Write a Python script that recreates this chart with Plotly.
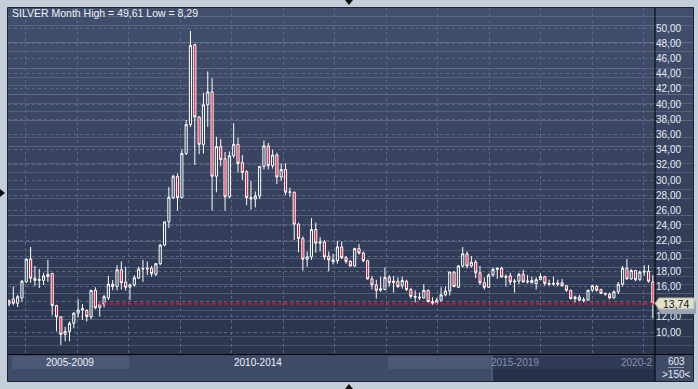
import plotly.graph_objects as go
import pandas as pd

# ---- data (monthly SILVER candles, Oct 2007 .. Mar 2020) ----
months = [d.strftime("%Y-%m") for d in pd.date_range("2007-10-01", periods=150, freq="MS")]
opens = [13.7, 14.35, 13.8, 14.5, 16.6, 19.6, 17.1, 16.8, 16.8, 17.3,
         17.7, 13.5, 12.0, 9.7, 10.1, 11.15, 12.5, 12.9, 12.85, 12.0,
         15.5, 13.25, 13.7, 14.5, 16.3, 16.0, 18.2, 16.6, 15.9, 16.2,
         17.1, 18.3, 18.3, 18.4, 17.6, 19.0, 21.45, 24.5, 27.7, 30.5,
         27.7, 33.5, 37.3, 47.8, 38.3, 34.7, 39.9, 41.6, 30.5, 34.4,
         32.8, 27.8, 33.2, 34.7, 32.3, 31.1, 27.7, 27.5, 27.9, 31.8,
         34.5, 31.9, 33.3, 30.4, 31.4, 28.4, 28.4, 24.2, 22.3, 19.6,
         19.9, 23.5, 21.7, 21.85, 20.0, 19.3, 19.4, 21.2, 19.8, 19.3,
         18.7, 21.0, 20.4, 19.4, 17.0, 16.2, 15.5, 15.6, 17.2, 16.5,
         16.7, 16.1, 16.7, 15.6, 14.7, 14.6, 14.5, 15.5, 14.0, 13.8,
         14.2, 14.9, 15.4, 17.9, 15.9, 18.7, 20.3, 18.7, 19.2, 17.8,
         16.5, 15.9, 17.5, 18.25, 18.4, 17.2, 17.4, 16.6, 16.7, 17.6,
         16.6, 16.8, 16.4, 16.9, 17.3, 16.4, 16.3, 16.45, 16.5, 16.1,
         15.5, 14.4, 14.6, 14.2, 14.2, 15.5, 16.0, 15.6, 15.1, 15.0,
         14.5, 15.3, 16.3, 18.4, 17.0, 18.1, 16.9, 17.9, 18.0, 16.6]
highs = [14.3, 16.0, 14.9, 16.85, 19.7, 21.2, 18.7, 18.3, 17.8, 19.5,
         17.8, 13.6, 12.1, 10.7, 11.4, 12.6, 14.35, 13.7, 13.0, 15.5,
         15.9, 13.9, 14.9, 17.4, 16.85, 18.8, 19.3, 18.6, 16.4, 17.5,
         18.6, 19.5, 19.3, 18.7, 19.1, 21.6, 24.5, 29.1, 30.7, 30.9,
         34.05, 37.9, 49.61, 47.9, 38.4, 41.5, 44.3, 43.4, 35.7, 35.4,
         33.7, 33.8, 37.5, 35.6, 33.3, 31.3, 29.9, 28.5, 31.8, 35.2,
         34.9, 34.0, 33.6, 32.2, 32.2, 29.0, 28.5, 24.4, 22.6, 20.6,
         25.0, 24.4, 22.5, 22.1, 20.6, 20.3, 22.0, 21.9, 20.0, 19.5,
         21.1, 21.6, 20.6, 19.5, 17.4, 16.9, 17.3, 18.5, 17.5, 17.4,
         17.2, 17.3, 16.9, 15.8, 15.5, 15.2, 16.3, 15.6, 14.6, 14.5,
         15.9, 16.0, 17.95, 18.0, 18.8, 21.2, 20.6, 20.0, 19.5, 18.7,
         17.2, 17.7, 18.5, 18.5, 18.6, 17.6, 17.8, 17.0, 17.8, 18.2,
         17.5, 17.3, 17.2, 17.7, 17.4, 16.9, 17.3, 16.9, 17.0, 16.2,
         15.55, 14.8, 14.9, 14.6, 15.6, 16.2, 16.2, 15.7, 15.2, 15.2,
         15.5, 16.6, 18.7, 19.6, 18.3, 18.2, 18.1, 18.8, 18.8, 17.5]
lows = [13.4, 13.55, 13.3, 14.0, 16.5, 16.5, 16.1, 15.8, 16.2, 16.6,
        12.2, 10.1, 8.29, 8.8, 8.8, 10.5, 11.9, 11.6, 11.4, 11.7,
        13.0, 12.1, 13.25, 14.2, 15.5, 15.5, 15.6, 15.45, 14.2, 16.0,
        17.0, 16.6, 17.5, 17.3, 17.4, 18.8, 21.3, 23.7, 27.5, 26.0,
        27.6, 33.3, 37.0, 32.0, 33.4, 33.5, 37.0, 26.0, 28.4, 31.8,
        26.0, 27.6, 32.9, 31.0, 30.0, 26.7, 26.1, 26.4, 27.5, 31.4,
        31.4, 31.5, 29.5, 29.9, 28.05, 27.8, 22.1, 20.5, 18.1, 18.6,
        19.5, 20.45, 20.6, 19.5, 18.0, 18.9, 19.0, 19.6, 19.0, 18.6,
        18.6, 20.2, 19.2, 16.9, 15.6, 14.4, 15.3, 15.5, 16.0, 15.2,
        15.8, 15.7, 15.4, 14.4, 13.9, 14.2, 14.4, 13.9, 13.6, 13.6,
        14.0, 14.7, 14.8, 15.9, 15.8, 18.5, 18.4, 18.5, 17.1, 16.2,
        15.6, 15.8, 17.3, 17.0, 17.2, 16.0, 16.2, 15.2, 16.3, 16.5,
        16.4, 16.4, 15.6, 16.85, 16.1, 16.1, 16.1, 16.0, 16.0, 15.3,
        14.3, 13.9, 14.1, 13.9, 14.15, 15.3, 15.3, 15.0, 14.8, 14.3,
        14.4, 15.0, 16.0, 16.9, 16.9, 16.7, 16.7, 17.4, 16.5, 11.8]
closes = [14.1, 13.8, 14.65, 16.7, 19.6, 17.1, 16.8, 16.9, 17.4, 17.6,
          13.5, 12.0, 9.7, 10.1, 11.15, 12.5, 12.9, 13.1, 12.05, 15.5,
          13.2, 13.7, 14.66, 16.3, 16.0, 18.2, 16.5, 15.9, 16.2, 17.15,
          18.3, 18.35, 18.4, 17.7, 19.0, 21.45, 24.5, 27.75, 30.5, 27.7,
          33.5, 37.3, 47.7, 38.3, 34.7, 39.9, 41.6, 30.5, 34.4, 32.7,
          27.8, 33.2, 34.7, 32.2, 31.0, 27.7, 27.5, 27.9, 31.8, 34.5,
          31.9, 33.3, 30.4, 31.4, 28.4, 28.45, 24.2, 22.3, 19.6, 19.9,
          23.5, 21.7, 21.85, 19.9, 19.5, 19.5, 21.2, 19.8, 19.3, 18.7,
          21.0, 20.4, 19.4, 17.0, 16.2, 15.5, 15.7, 17.2, 16.5, 16.7,
          16.0, 16.8, 15.6, 14.7, 14.6, 14.5, 15.5, 14.0, 13.8, 14.2,
          14.9, 15.4, 17.9, 16.0, 18.7, 20.3, 18.7, 19.2, 17.8, 16.5,
          15.9, 17.5, 18.25, 18.4, 17.25, 17.3, 16.6, 16.7, 17.6, 16.6,
          16.7, 16.5, 16.9, 17.3, 16.4, 16.3, 16.4, 16.3, 16.1, 15.5,
          14.4, 14.6, 14.2, 14.25, 15.5, 16.1, 15.5, 15.1, 15.0, 14.5,
          15.3, 16.3, 18.4, 17.0, 18.1, 16.9, 17.9, 18.0, 16.7, 13.74]

y_ticks = [10, 12, 14, 16, 18, 20, 22, 24, 26, 28, 30, 32, 34, 36, 38, 40, 42, 44, 46, 48, 50]
period_labels = ["2005-2009", "2010-2014", "2015-2019", "2020-2"]
symbol = "SILVER"
period_name = "Month"

def fmt(v):
    return f"{v:.2f}".replace(".", ",")

x_idx = list(range(len(months)))
last = closes[-1]
# tick labels hidden behind the last-price marker are left blank
y_ticktext = ["" if abs(t - last) < 1.0 else fmt(t) for t in y_ticks]

# ---- layout geometry (pixels) ----
W, H = 698, 389
ML, MR, MT, MB = 8, 43, 8, 35
PW, PH = W - ML - MR, H - MT - MB

def px(xp):  # pixel x -> paper
    return (xp - ML) / PW

def py(yp):  # pixel y -> paper
    return (H - MB - yp) / PH

fig = go.Figure()
fig.add_trace(go.Candlestick(
    x=x_idx, open=opens, high=highs, low=lows, close=closes,
    increasing=dict(line=dict(color="#ffffff", width=1), fillcolor="#34415d"),
    decreasing=dict(line=dict(color="#ffffff", width=1), fillcolor="#e3102f"),
    whiskerwidth=0, hoverinfo="skip", showlegend=False,
))

shapes = []
# gradient background (plot + right axis panel)
top_rgb = (0x42, 0x4f, 0x6c)
bot_rgb = (0x2a, 0x35, 0x50)
n = 40
for k in range(n):
    t = k / (n - 1)
    c = tuple(round(top_rgb[j] + (bot_rgb[j] - top_rgb[j]) * t) for j in range(3))
    shapes.append(dict(type="rect", xref="paper", yref="paper",
                       x0=0, x1=px(693), y0=1 - (k + 1) / n, y1=1 - k / n,
                       fillcolor="rgb(%d,%d,%d)" % c, line=dict(width=0), layer="below"))
# navigator strip
shapes.append(dict(type="rect", xref="paper", yref="paper", x0=0, x1=px(693), y0=py(381), y1=py(355),
                   fillcolor="#3f4c68", line=dict(width=0), layer="below"))
shapes.append(dict(type="rect", xref="paper", yref="paper", x0=px(493), x1=px(655), y0=py(369), y1=py(356),
                   fillcolor="#2e3a56", line=dict(width=0), layer="below"))
shapes.append(dict(type="rect", xref="paper", yref="paper", x0=px(493), x1=px(655), y0=py(381), y1=py(369),
                   fillcolor="#27314b", line=dict(width=0), layer="below"))
shapes.append(dict(type="rect", xref="paper", yref="paper", x0=px(12), x1=px(129), y0=py(369), y1=py(356),
                   fillcolor="#4b5976", line=dict(width=0), layer="below"))
shapes.append(dict(type="rect", xref="paper", yref="paper", x0=px(388), x1=px(491), y0=py(369), y1=py(356),
                   fillcolor="#4b5976", line=dict(width=0), layer="below"))
shapes.append(dict(type="line", xref="paper", yref="paper", x0=px(492), x1=px(492), y0=py(381), y1=py(355),
                   line=dict(color="#5a6680", width=1), layer="below"))
# black frame lines
shapes.append(dict(type="line", xref="paper", yref="paper", x0=0, x1=px(693), y0=py(354.5), y1=py(354.5),
                   line=dict(color="#000000", width=1)))
shapes.append(dict(type="line", xref="paper", yref="paper", x0=1, x1=1, y0=py(381), y1=1,
                   line=dict(color="#000000", width=1)))
shapes.append(dict(type="rect", xref="paper", yref="paper", x0=px(7.5), x1=px(693.5), y0=py(381.5), y1=py(7.5),
                   line=dict(color="#1c2333", width=1)))
# underline under count
shapes.append(dict(type="line", xref="paper", yref="paper", x0=px(668), x1=px(684), y0=py(367.5), y1=py(367.5),
                   line=dict(color="#8f9ab0", width=1)))
# last price dotted line
shapes.append(dict(type="line", xref="x", yref="y", x0=20.7, x1=149.5, y0=last, y1=last,
                   line=dict(color="#e3102f", width=2, dash="3px,3px")))
# last price label (shadow + box with arrow)
def label_path(x0, x1, y0, y1, tip):
    ym = (y0 + y1) / 2
    return "M %f %f L %f %f L %f %f L %f %f L %f %f Z" % (
        px(tip), py(ym), px(x0), py(y0), px(x1), py(y0), px(x1), py(y1), px(x0), py(y1))
shapes.append(dict(type="path", xref="paper", yref="paper",
                   path=label_path(661, 696, 302, 314, 657), fillcolor="#9ca4b4", line=dict(width=0)))
shapes.append(dict(type="path", xref="paper", yref="paper",
                   path=label_path(659, 694, 298, 309, 655), fillcolor="#e2e2cc", line=dict(color="#b9b9a8", width=1)))
# frame triangles
def tri(pts):
    s = "M " + " L ".join("%f %f" % (px(a), py(b)) for a, b in pts) + " Z"
    return dict(type="path", xref="paper", yref="paper", path=s, fillcolor="#111111", line=dict(width=0))
shapes.append(tri([(345, 0), (353, 0), (349, 5)]))
shapes.append(tri([(0, 189), (0, 197), (5, 193)]))
shapes.append(tri([(345, 389), (353, 389), (349, 384)]))

annotations = [
    dict(xref="paper", yref="paper", x=px(10), y=py(13), xanchor="left", yanchor="middle",
         text=f"{symbol} {period_name} High = {fmt(max(highs))} Low = {fmt(min(lows))}",
         showarrow=False, font=dict(size=10.5, color="#eef2f8")),
    dict(xref="paper", yref="paper", x=px(70), y=py(363), xanchor="center", yanchor="middle",
         text=period_labels[0], showarrow=False, font=dict(size=10, color="#eef2f8")),
    dict(xref="paper", yref="paper", x=px(258), y=py(363), xanchor="center", yanchor="middle",
         text=period_labels[1], showarrow=False, font=dict(size=10, color="#eef2f8")),
    dict(xref="paper", yref="paper", x=px(515), y=py(363), xanchor="center", yanchor="middle",
         text=period_labels[2], showarrow=False, font=dict(size=10, color="#8692a8")),
    dict(xref="paper", yref="paper", x=px(655), y=py(363), xanchor="right", yanchor="middle",
         text=period_labels[3], showarrow=False, font=dict(size=10, color="#8692a8")),
    dict(xref="paper", yref="paper", x=px(676), y=py(361.5), xanchor="center", yanchor="middle",
         text="603", showarrow=False, font=dict(size=10, color="#e6ecf5")),
    dict(xref="paper", yref="paper", x=px(676), y=py(374), xanchor="center", yanchor="middle",
         text=f"&gt;{len(months)}&lt;", showarrow=False, font=dict(size=10, color="#e6ecf5")),
    dict(xref="paper", yref="paper", x=px(676), y=py(303.5), xanchor="center", yanchor="middle",
         text=fmt(last), showarrow=False, font=dict(size=10.5, color="#111111")),
]

fig.update_layout(
    width=W, height=H,
    margin=dict(l=ML, r=MR, t=MT, b=MB, pad=0),
    paper_bgcolor="#c5cedb",
    plot_bgcolor="rgba(0,0,0,0)",
    separators=",.",
    font=dict(family="Liberation Sans, Arial, sans-serif", size=10, color="#e6ecf5"),
    shapes=shapes,
    annotations=annotations,
    showlegend=False,
    hovermode=False,
    xaxis=dict(range=[-0.23, 149.5], rangeslider=dict(visible=False),
               tickvals=[3.9 + 11.92 * k for k in range(13)], showticklabels=False,
               showgrid=True, gridcolor="#5b6884", griddash="3px,3px", gridwidth=1,
               zeroline=False, showline=False, ticks=""),
    yaxis=dict(range=[7.12, 52.64], side="right", tickvals=y_ticks, ticktext=y_ticktext,
               showgrid=True, gridcolor="#5b6884", griddash="3px,3px", gridwidth=1,
               zeroline=False, showline=False, ticks="",
               tickfont=dict(size=10, color="#e6ecf5")),
)

fig.write_html(
    "out.html",
    config={"displayModeBar": False, "staticPlot": True},
    post_script="document.body.style.margin='0';document.body.style.overflow='hidden';"
                "document.body.style.background='#c5cedb';",
)
